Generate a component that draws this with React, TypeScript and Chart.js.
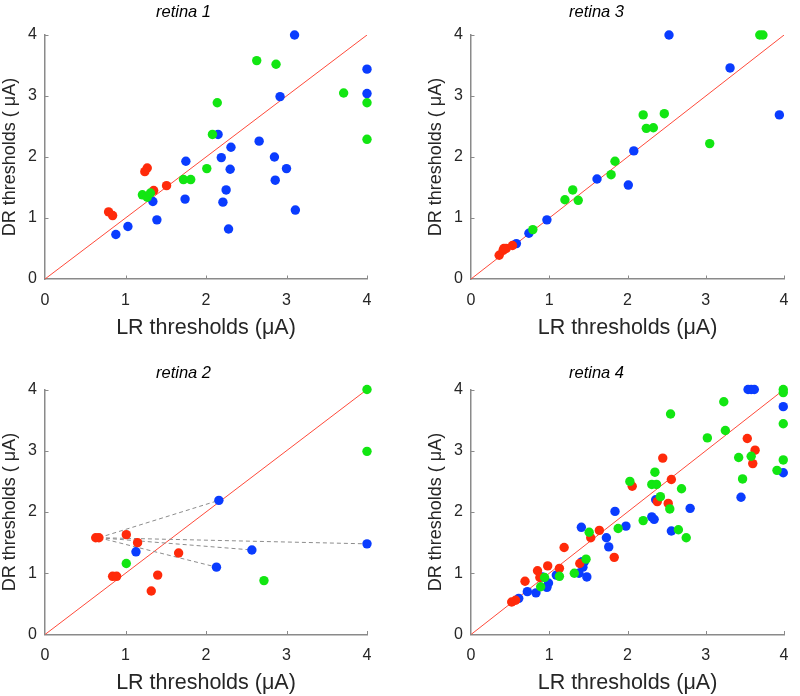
import React, { useEffect, useRef } from "react";
import { Chart, registerables } from "chart.js";

Chart.register(...registerables);

type P = [number, number];

// ---- data (LR threshold, DR threshold) in µA ----
const r1Blue: P[] = [
  [3.10, 4.00], [4.00, 3.44], [4.00, 3.04], [2.92, 2.99], [2.15, 2.37], [2.66, 2.26],
  [2.31, 2.16], [2.19, 1.99], [2.85, 2.00], [1.75, 1.93], [3.00, 1.81], [2.30, 1.80],
  [2.86, 1.62], [2.25, 1.46], [1.34, 1.27], [1.74, 1.31], [2.21, 1.26], [3.11, 1.13],
  [1.39, 0.97], [1.03, 0.86], [0.88, 0.73], [2.28, 0.82],
];
const r1Green: P[] = [
  [2.63, 3.58], [2.87, 3.52], [3.71, 3.05], [4.00, 2.89], [2.14, 2.89], [2.08, 2.37],
  [4.00, 2.29], [2.01, 1.81], [1.72, 1.63], [1.81, 1.63], [1.21, 1.38], [1.27, 1.34],
  [1.31, 1.41],
];
const r1Red: P[] = [
  [1.27, 1.82], [1.24, 1.76], [1.35, 1.45], [1.51, 1.53], [0.79, 1.10], [0.84, 1.04],
];

const r3Blue: P[] = [
  [2.53, 4.00], [3.31, 3.46], [3.94, 2.69], [2.08, 2.10], [1.61, 1.64], [2.01, 1.54],
  [0.97, 0.97], [0.74, 0.75], [0.58, 0.58],
];
const r3Green: P[] = [
  [3.69, 4.00], [3.73, 4.00], [2.20, 2.69], [2.47, 2.71], [2.24, 2.47], [2.33, 2.48],
  [3.05, 2.22], [1.84, 1.93], [1.79, 1.71], [1.30, 1.46], [1.20, 1.30], [1.37, 1.29],
  [0.79, 0.81],
];
const r3Red: P[] = [
  [0.36, 0.39], [0.41, 0.47], [0.42, 0.50], [0.45, 0.50], [0.53, 0.55],
];

const r2Blue: P[] = [
  [2.16, 2.19], [4.00, 1.48], [2.57, 1.38], [1.13, 1.35], [2.13, 1.10],
];
const r2Green: P[] = [
  [4.00, 4.00], [4.00, 2.99], [1.01, 1.16], [2.72, 0.88],
];
const r2Red: P[] = [
  [0.63, 1.58], [0.67, 1.58], [1.01, 1.63], [1.15, 1.50], [1.66, 1.33], [0.84, 0.95],
  [0.89, 0.95], [1.40, 0.97], [1.32, 0.71],
];
const r2DashFrom: P = [0.67, 1.58];
const r2DashTo: P[] = [
  [2.16, 2.19], [4.00, 1.48], [2.57, 1.38], [2.13, 1.10],
];

const r4Blue: P[] = [
  [3.54, 4.00], [3.58, 4.00], [3.62, 4.00], [3.99, 3.72], [3.99, 2.64], [3.45, 2.24],
  [2.36, 2.20], [2.80, 2.06], [1.84, 2.01], [1.98, 1.77], [2.31, 1.92], [2.34, 1.88],
  [2.56, 1.69], [1.41, 1.75], [1.73, 1.58], [1.76, 1.43], [1.42, 1.19], [1.45, 1.19],
  [1.43, 1.10], [1.38, 1.00], [1.48, 0.94], [1.09, 0.97], [0.91, 0.94], [0.99, 0.84],
  [0.97, 0.77], [0.83, 0.68], [0.72, 0.70], [0.61, 0.59],
];
const r4Green: P[] = [
  [3.99, 4.00], [3.99, 3.95], [3.23, 3.80], [2.55, 3.60], [3.25, 3.33], [3.99, 3.44],
  [3.02, 3.21], [3.42, 2.89], [3.58, 2.91], [3.99, 2.85], [3.91, 2.68], [3.47, 2.54],
  [2.35, 2.65], [2.03, 2.50], [2.31, 2.45], [2.37, 2.45], [2.69, 2.38], [2.42, 2.25],
  [2.54, 2.05], [1.88, 1.73], [2.20, 1.86], [2.65, 1.71], [2.75, 1.58], [1.51, 1.67],
  [1.47, 1.23], [1.32, 1.00], [1.13, 0.95], [0.94, 0.93], [0.89, 0.78],
];
const r4Red: P[] = [
  [3.53, 3.20], [3.63, 3.01], [3.60, 2.79], [2.45, 2.88], [2.56, 2.53], [2.06, 2.42],
  [2.38, 2.17], [2.52, 2.14], [1.64, 1.70], [1.53, 1.58], [1.19, 1.42], [1.83, 1.26],
  [1.39, 1.16], [0.98, 1.12], [1.13, 1.08], [0.85, 1.04], [0.88, 0.93], [0.69, 0.87],
  [0.52, 0.53], [0.57, 0.56],
];

const axisMin = 0;
const axisMax = 4;
const identityLine: P[] = [[0, 0], [4, 4]];
const xTitle = "LR thresholds (μA)";
const yTitle = "DR thresholds ( μA)";

const BLUE = "#0a3cff";
const GREEN = "#12e612";
const RED = "#ff2a0a";
const DIAG = "#ff4a3a";
const AXIS = "#8a8a8a";
const TEXT = "#262626";
const FONT = "'Liberation Sans', Arial, Helvetica, sans-serif";

interface PanelDef {
  title: string;
  blue: P[];
  green: P[];
  red: P[];
  dashFrom?: P;
  dashTo?: P[];
  left: number;
  top: number;
  chartLeft: number;
  rightPad: number;
  chartTop: number;
  bottomPad: number;
  titleCenter: number;
  xTitleFromBottom: number;
  yTitleCenter: number;
}

const panels: PanelDef[] = [
  { title: "retina 1", blue: r1Blue, green: r1Green, red: r1Red, left: 0, top: 0,
    chartLeft: 45, rightPad: 33, chartTop: 35, bottomPad: 69, titleCenter: 12.5, xTitleFromBottom: 20, yTitleCenter: 10 },
  { title: "retina 3", blue: r3Blue, green: r3Green, red: r3Red, left: 400, top: 0,
    chartLeft: 71, rightPad: 7, chartTop: 35, bottomPad: 69, titleCenter: 12.5, xTitleFromBottom: 20, yTitleCenter: 36 },
  { title: "retina 2", blue: r2Blue, green: r2Green, red: r2Red, dashFrom: r2DashFrom, dashTo: r2DashTo, left: 0, top: 348,
    chartLeft: 45, rightPad: 33, chartTop: 41.5, bottomPad: 61.5, titleCenter: 25, xTitleFromBottom: 13, yTitleCenter: 10 },
  { title: "retina 4", blue: r4Blue, green: r4Green, red: r4Red, left: 400, top: 348,
    chartLeft: 71, rightPad: 7, chartTop: 41.5, bottomPad: 61.5, titleCenter: 25, xTitleFromBottom: 13, yTitleCenter: 36 },
];

const toXY = (arr: P[]) => arr.map(([x, y]) => ({ x, y }));

const inwardTicks = {
  id: "inwardTicks",
  afterDatasetsDraw(chart: any) {
    const { ctx, chartArea, scales } = chart;
    const xs = scales.x;
    const ys = scales.y;
    ctx.save();
    ctx.strokeStyle = AXIS;
    ctx.lineWidth = 1;
    ctx.beginPath();
    for (const t of xs.ticks) {
      if (t.value === axisMin) continue;
      const px = Math.round(xs.getPixelForValue(t.value)) + 0.5;
      ctx.moveTo(px, chartArea.bottom);
      ctx.lineTo(px, chartArea.bottom - 3.5);
    }
    for (const t of ys.ticks) {
      if (t.value === axisMin) continue;
      const py = Math.round(ys.getPixelForValue(t.value)) + 0.5;
      ctx.moveTo(chartArea.left, py);
      ctx.lineTo(chartArea.left + 3.5, py);
    }
    ctx.stroke();
    ctx.restore();
  },
};

function Panel({ def }: { def: PanelDef }) {
  const ref = useRef<HTMLCanvasElement | null>(null);
  useEffect(() => {
    if (!ref.current) return;
    const titleSize = 16.5;
    const titleLH = titleSize * 1.2;
    const titlePadTop = def.titleCenter - titleLH / 2;
    const titlePadBottom = def.chartTop - titleLH - titlePadTop;
    const datasets: any[] = [
      { type: "scatter", data: toXY(def.green), backgroundColor: GREEN, pointRadius: 4.7, pointBorderWidth: 0, borderWidth: 0, order: 1, clip: false },
      { type: "scatter", data: toXY(def.red), backgroundColor: RED, pointRadius: 4.7, pointBorderWidth: 0, borderWidth: 0, order: 2, clip: false },
      { type: "scatter", data: toXY(def.blue), backgroundColor: BLUE, pointRadius: 4.7, pointBorderWidth: 0, borderWidth: 0, order: 3, clip: false },
    ];
    if (def.dashFrom && def.dashTo) {
      for (const to of def.dashTo) {
        datasets.push({
          type: "line", data: toXY([def.dashFrom, to]), borderColor: "#8c8c8c", borderWidth: 1,
          borderDash: [4, 3], pointRadius: 0, order: 9, clip: false,
        });
      }
    }
    datasets.push({
      type: "line", data: toXY(identityLine), borderColor: DIAG, borderWidth: 1, pointRadius: 0, order: 10,
    });
    const chart = new Chart(ref.current, {
      type: "scatter",
      data: { datasets },
      options: {
        animation: false,
        responsive: false,
        devicePixelRatio: 1,
        events: [],
        layout: { padding: { left: 0, right: def.rightPad, top: 0, bottom: 0 } },
        plugins: {
          legend: { display: false },
          tooltip: { enabled: false },
          title: {
            display: true,
            text: def.title,
            color: "#000",
            font: { family: FONT, size: titleSize, style: "italic", weight: "normal", lineHeight: 1.2 },
            padding: { top: titlePadTop, bottom: titlePadBottom },
          },
        },
        scales: {
          x: {
            type: "linear",
            min: axisMin,
            max: axisMax,
            afterFit: (s: any) => { s.height = def.bottomPad; },
            grid: { display: false, drawTicks: false, tickLength: 0 },
            border: { display: true, color: AXIS, width: 1.5 },
            ticks: { stepSize: 1, padding: 11.5, color: TEXT, maxRotation: 0, font: { family: FONT, size: 16, lineHeight: 1.2 } },
            title: {
              display: true, text: xTitle, color: TEXT,
              font: { family: FONT, size: 21.5, lineHeight: 1.2 },
              padding: { top: 0, bottom: def.xTitleFromBottom - 12.9 },
            },
          },
          y: {
            type: "linear",
            min: axisMin,
            max: axisMax,
            afterFit: (s: any) => { s.width = def.chartLeft; },
            grid: { display: false, drawTicks: false, tickLength: 0 },
            border: { display: true, color: AXIS, width: 1.5 },
            ticks: { stepSize: 1, padding: 8, color: TEXT, font: { family: FONT, size: 16, lineHeight: 1.2 } },
            title: {
              display: true, text: yTitle, color: TEXT,
              font: { family: FONT, size: 18, lineHeight: 1 },
              padding: { top: def.yTitleCenter - 9, bottom: 0 },
            },
          },
        },
      } as any,
      plugins: [inwardTicks],
    });
    return () => chart.destroy();
  }, [def]);
  return (
    <canvas
      ref={ref}
      width={400}
      height={348}
      style={{ position: "absolute", left: def.left, top: def.top, width: 400, height: 348 }}
    />
  );
}

export default function App() {
  return (
    <div style={{ position: "absolute", left: 0, top: 0, width: 800, height: 696, background: "#fff" }}>
      {panels.map((p) => (
        <Panel key={p.title} def={p} />
      ))}
    </div>
  );
}
